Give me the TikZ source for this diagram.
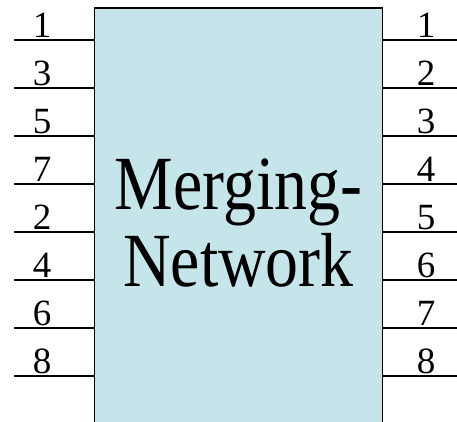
\documentclass[tikz,border=0pt]{standalone}
\usepackage{fontspec}
\setmainfont{Liberation Serif}
\newfontfamily\squeezed[FakeStretch=0.86]{Liberation Serif}
\definecolor{boxfill}{RGB}{198,229,234}
\begin{document}
\begin{tikzpicture}[x=1pt,y=-1pt,
  wire/.style={line width=1.4pt},
  num/.style={anchor=base,inner sep=0pt,font=\fontsize{37}{37}\selectfont},
  big/.style={anchor=base,inner sep=0pt,font=\squeezed\fontsize{76.6}{77}\selectfont}]
\useasboundingbox (0,0) rectangle (457,422);
\clip (0,0) rectangle (457,422);
\node[draw,line width=1.4pt,fill=boxfill,minimum width=288pt,minimum height=452pt,inner sep=0pt,anchor=north] (net) at (238.5,7.3) {};
\node[big] (t1) at (238.5,209) {Merging-};
\node[big] (t2) at (238.5,286) {Network};
\foreach \i/\a/\b [count=\k] in {40/1/1,88/3/2,136/5/3,184/7/4,232/2/5,280/4/6,328/6/7,376/8/8}{
  \coordinate (l\k) at (14,\i);
  \coordinate (r\k) at (457,\i);
  \draw[wire] (l\k) -- (l\k -| net.west);
  \draw[wire] (r\k -| net.east) -- (r\k);
  \node[num] (la\k) at (42,\i-2.5) {\a};
  \node[num] (ra\k) at (426,\i-2.5) {\b};
}
\end{tikzpicture}
\end{document}
